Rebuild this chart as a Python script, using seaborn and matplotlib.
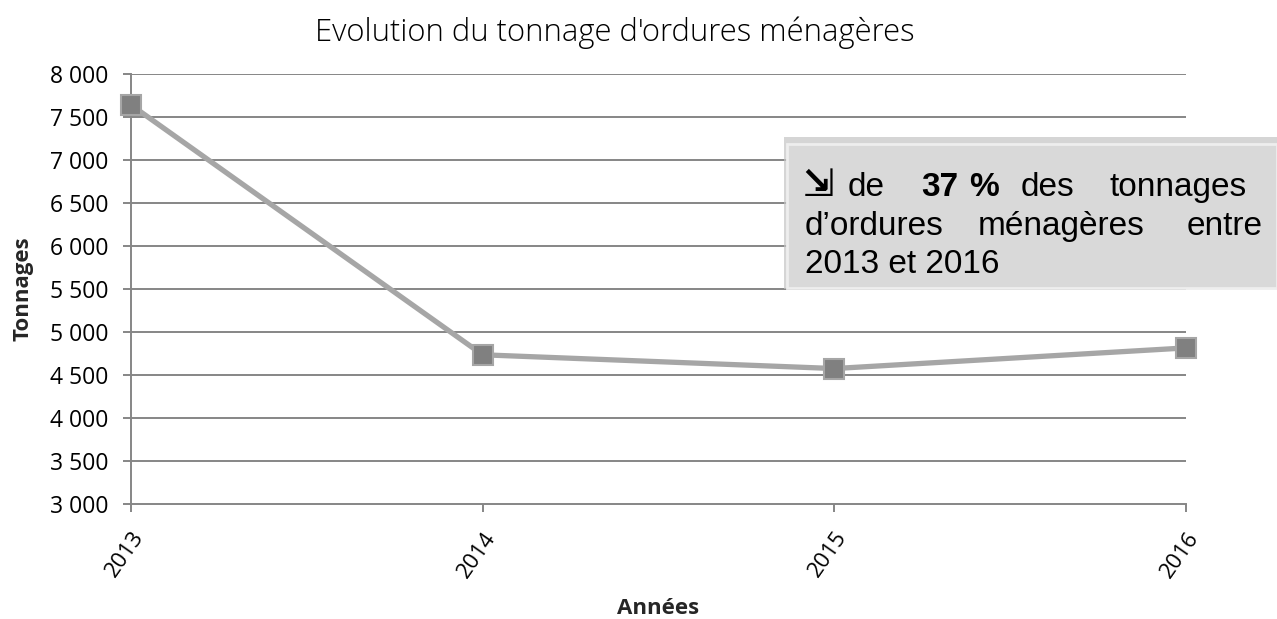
import matplotlib
matplotlib.use('Agg')
import matplotlib.pyplot as plt
import matplotlib.patches as patches
import seaborn as sns
import pandas as pd

annees = [2013, 2014, 2015, 2016]
tonnages = [7640, 4735, 4575, 4815]
yticks = [3000, 3500, 4000, 4500, 5000, 5500, 6000, 6500, 7000, 7500, 8000]
ytick_labels = ['3 000', '3 500', '4 000', '4 500', '5 000', '5 500', '6 000', '6 500', '7 000', '7 500', '8 000']

df = pd.DataFrame({'Années': annees, 'Tonnages': tonnages})

sns.set_style('white')
plt.rcParams['font.family'] = ['Open Sans', 'DejaVu Sans']
plt.rcParams['text.color'] = 'black'

W, H = 1277, 619
fig = plt.figure(figsize=(12.77, 6.19), dpi=100)
ax = fig.add_axes([131 / W, 1 - 504 / H, (1186 - 131) / W, (504 - 74) / H])

grid_col = '#868686'
for y in yticks[1:]:
    ax.axhline(y, color=grid_col, lw=1.4, zorder=0)

sns.lineplot(data=df, x='Années', y='Tonnages', ax=ax, color='#a6a6a6', lw=3.8,
             marker='s', markersize=14, markerfacecolor='#808080',
             markeredgecolor='#a6a6a6', markeredgewidth=1.5, clip_on=False, zorder=3)

ax.set_xlim(2013, 2016)
ax.set_ylim(3000, 8000)
ax.set_yticks(yticks)
ax.set_yticklabels(ytick_labels, fontsize=16.5, color='black')
ax.set_xticks(annees)
ax.set_xticklabels([str(a) for a in annees], fontsize=16, rotation=55, color='black',
                   ha='right', va='top', rotation_mode='anchor')
ax.tick_params(axis='both', which='both', length=6, width=1.4, color=grid_col,
               direction='out', left=True, bottom=True)
ax.tick_params(axis='y', pad=10)
ax.tick_params(axis='x', pad=11)
for s in ['top', 'right']:
    ax.spines[s].set_visible(False)
for s in ['left', 'bottom']:
    ax.spines[s].set_color(grid_col)
    ax.spines[s].set_linewidth(1.4)

ax.set_xlabel('Années', fontsize=16, fontweight='bold', labelpad=12)
ax.set_ylabel('Tonnages', fontsize=16, fontweight='bold', labelpad=12)


def px(x, y):
    return x / W, 1 - y / H


tx, ty = px(615, 33)
fig.text(tx, ty, "Evolution du tonnage d'ordures ménagères", fontsize=22.3,
         fontweight='light', ha='center', va='center')

# encadré
shadow = patches.Rectangle(px(784, 289), (W - 784) / W, (289 - 137) / H,
                           transform=fig.transFigure, facecolor='#c4c4c4',
                           edgecolor='none', alpha=0.7, zorder=4)
fig.add_artist(shadow)
box = patches.Rectangle(px(787, 288), (W - 787) / W, (288 - 144) / H,
                        transform=fig.transFigure, facecolor='#d9d9d9',
                        edgecolor='#eeeeee', lw=2, zorder=5)
fig.add_artist(box)

fs = 24
fam = ['Liberation Sans', 'DejaVu Sans']
lines = [
    [(803, '⇲', 'bold', 27), (848, 'de', 'normal', fs), (921, '37', 'bold', fs), (969, '%', 'bold', fs),
     (1021, 'des', 'normal', fs), (1110, 'tonnages', 'normal', fs)],
    [(805, 'd’ordures', 'normal', fs), (978, 'ménagères', 'normal', fs), (1187, 'entre', 'normal', fs)],
    [(805, '2013 et 2016', 'normal', fs)],
]
baselines = [196, 235, 273]
for words, yb in zip(lines, baselines):
    for x, w, fw, size in words:
        fx, fy = px(x, yb)
        fig.text(fx, fy, w, fontsize=size, fontweight=fw, family=fam,
                 ha='left', va='baseline', zorder=6, color='#000000')

fig.savefig('out.png', dpi=100)
